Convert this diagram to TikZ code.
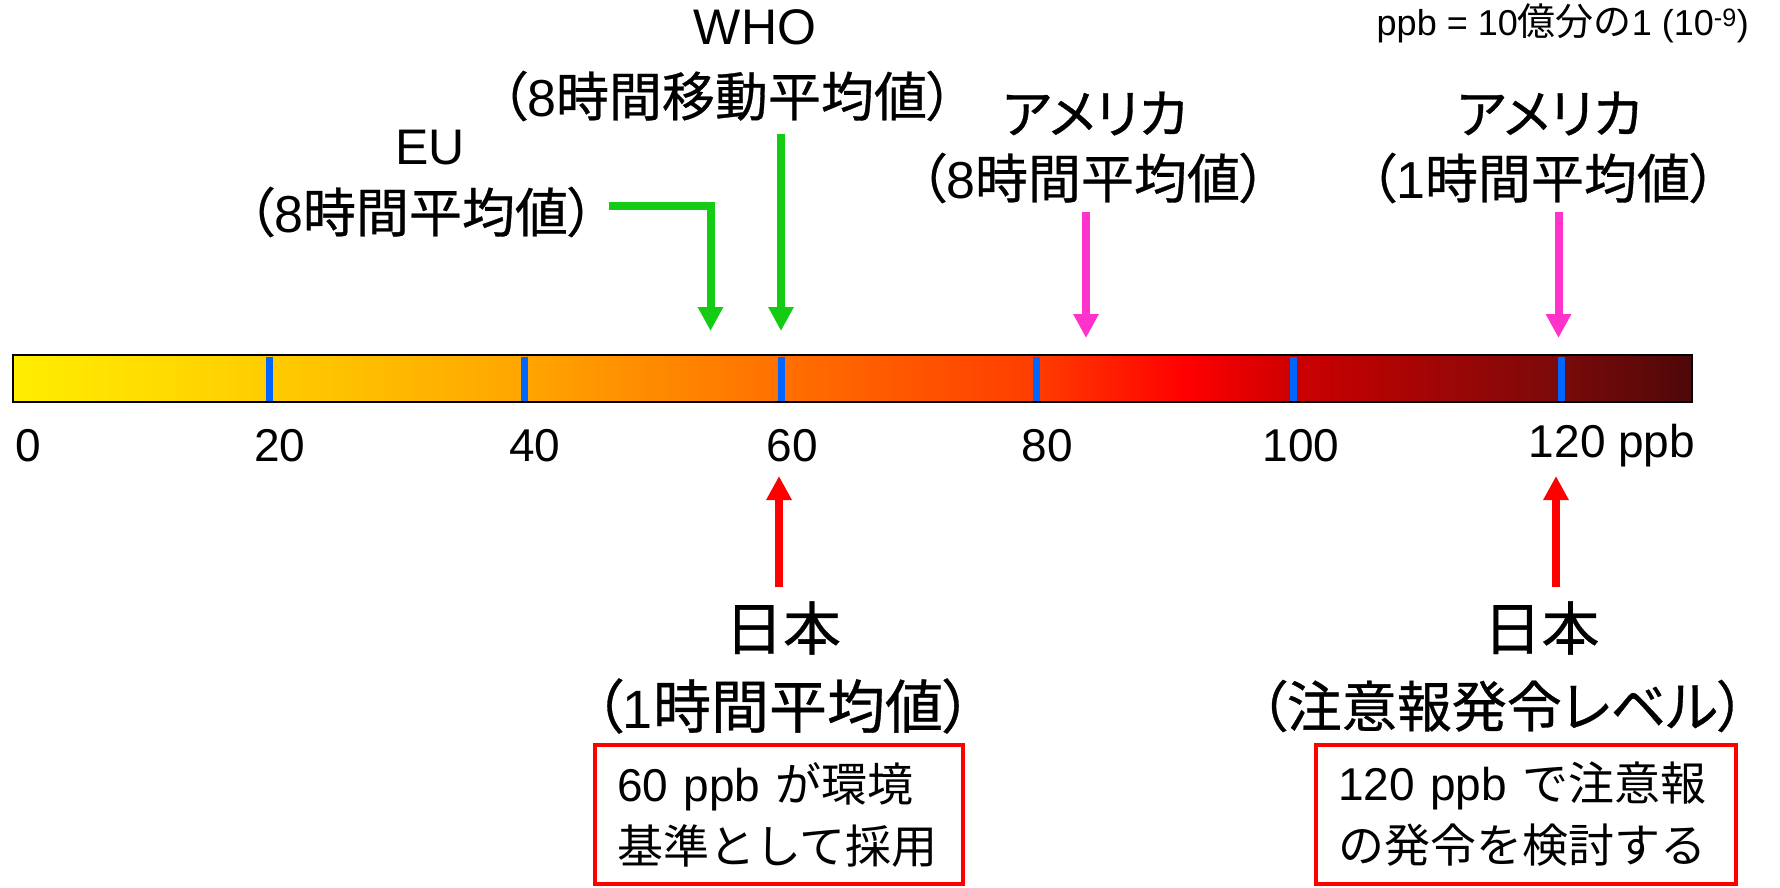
\documentclass[tikz,border=0pt]{standalone}
\usepackage{fontspec}
\setmainfont{Liberation Sans}
\newfontfamily\jpfont{Noto Sans CJK JP}
\newfontfamily\jppfont[RawFeature=+palt, FakeBold=0.6]{Noto Sans CJK JP}
\usetikzlibrary{arrows.meta}
\definecolor{tickblue}{RGB}{0,102,255}
\definecolor{grn}{RGB}{20,204,20}
\definecolor{pnk}{RGB}{255,51,204}
\definecolor{c0}{RGB}{255,238,0}
\definecolor{c1}{RGB}{255,204,0}
\definecolor{c2}{RGB}{255,165,0}
\definecolor{c3}{RGB}{255,112,0}
\definecolor{c4}{RGB}{255,60,0}
\definecolor{c5}{RGB}{255,0,0}
\definecolor{c6}{RGB}{205,0,0}
\definecolor{c7}{RGB}{122,10,10}
\definecolor{c8}{RGB}{78,8,8}
\newcommand{\jt}[1]{{\jppfont\fontsize{53}{53}\selectfont #1}}
\newcommand{\jb}[1]{{\jppfont\fontsize{58}{58}\selectfont #1}}
\newcommand{\jx}[1]{{\jpfont\fontsize{46}{46}\selectfont #1}}
\newcommand{\jn}[1]{{\jpfont\fontsize{38}{38}\selectfont #1}}
\newcommand{\dt}[1]{{\fontsize{52}{52}\selectfont #1}}
\newcommand{\db}[1]{{\fontsize{54}{54}\selectfont #1}}
\tikzset{
  toplbl/.style={inner sep=0pt, font=\fontsize{50}{50}\selectfont},
  botlbl/.style={inner sep=0pt, font=\fontsize{51}{51}\selectfont},
  axlbl/.style={inner sep=0pt, font=\fontsize{46}{46}\selectfont},
  tickln/.style={draw=tickblue, line width=7pt},
  garrow/.style={draw=grn, line width=8pt, -{Triangle[width=24pt,length=24pt]}},
  parrow/.style={draw=pnk, line width=8pt, -{Triangle[width=24pt,length=24pt]}},
  rarrow/.style={draw=red, line width=8pt, -{Triangle[width=24pt,length=24pt]}},
  notebox/.style={draw=red, line width=4pt, inner xsep=22pt, inner ysep=0pt,
    align=left, font=\fontsize{46}{62}\selectfont, minimum height=139pt}
}
\begin{document}
\begin{tikzpicture}[x=1pt,y=-1pt]
\useasboundingbox (0,0) rectangle (1780,887);
% colour bar
\shade[left color=c0, right color=c1] (13,355) rectangle (269.5,402);
\shade[left color=c1, right color=c2] (269,355) rectangle (525.5,402);
\shade[left color=c2, right color=c3] (525,355) rectangle (781.5,402);
\shade[left color=c3, right color=c4] (781,355) rectangle (1037.5,402);
\shade[left color=c4, right color=c5] (1037,355) rectangle (1185.5,402);
\shade[left color=c5, right color=c6] (1185,355) rectangle (1293.5,402);
\shade[left color=c6, right color=c7] (1293,355) rectangle (1561.5,402);
\shade[left color=c7, right color=c8] (1561,355) rectangle (1692,402);
\node[draw=black, line width=2.5pt, minimum width=1679pt, minimum height=47pt, inner sep=0pt] (bar) at (852.5,378.5) {};
\foreach \x/\n in {269/t20, 524.5/t40, 781/t60, 1036.5/t80, 1293/t100, 1561/t120}
  \draw[tickln] (\x,356.5) coordinate (\n top) -- (\x,400.5) coordinate (\n bot);
% axis labels
\node[axlbl] (l0) at (28,446) {0};
\node[axlbl] (l20) at (280,446) {20};
\node[axlbl] (l40) at (535,446) {40};
\node[axlbl] (l60) at (792,446) {60};
\node[axlbl] (l80) at (1047,446) {80};
\node[axlbl] (l100) at (1301,446) {100};
\node[axlbl] (l120) at (1612,446) {120 ppb};
% note
\node[inner sep=0pt, anchor=east, font=\fontsize{36}{36}\selectfont] (note) at (1749,23) {ppb = 10\jn{億分の}1 (10\textsuperscript{-9})};
% top labels
\node[toplbl] (who1) at (755,27) {WHO};
\node[toplbl] (who2) at (727,96) {\jt{（}\dt{8}\jt{時間移動平均値）}};
\node[toplbl] (eu1) at (430,148) {EU};
\node[toplbl] (eu2) at (421,212) {\jt{（}\dt{8}\jt{時間平均値）}};
\node[toplbl] (usa1) at (1095,113.5) {\jt{アメリカ}};
\node[toplbl] (usa2) at (1093,178) {\jt{（}\dt{8}\jt{時間平均値）}};
\node[toplbl] (usb1) at (1549.5,113.5) {\jt{アメリカ}};
\node[toplbl] (usb2) at (1543,178) {\jt{（}\dt{1}\jt{時間平均値）}};
% bottom labels
\node[botlbl] (jpa1) at (783,628) {\jb{日本}};
\node[botlbl] (jpa2) at (783,706) {\jb{（}\db{1}\jb{時間平均値）}};
\node[botlbl] (jpb1) at (1541.5,628) {\jb{日本}};
\node[botlbl] (jpb2) at (1494,706) {{\jppfont\fontsize{55}{55}\selectfont （注意報発令レベル）\kern-0.3em}};
% boxes
\node[notebox, text width=324pt] (boxa) at (779,814.5) {60 ppb \jx{が環境}\\\jx{基準として採用}};
\node[notebox, text width=376pt] (boxb) at (1526,814.5) {120 ppb \jx{で注意報}\\\jx{の発令を検討する}};
% arrows
\coordinate (euS) at (609,205.5);
\coordinate (euC) at (710.5,205.5);
\coordinate (euT) at (710.5,331);
\draw[garrow] (euS) -- (euC) -- (euT);
\coordinate (whoS) at (781,134);
\coordinate (whoT) at (781,331);
\draw[garrow] (whoS) -- (whoT);
\coordinate (usaS) at (1086,212);
\coordinate (usaT) at (1086,338);
\draw[parrow] (usaS) -- (usaT);
\coordinate (usbS) at (1558.5,212);
\coordinate (usbT) at (1558.5,338);
\draw[parrow] (usbS) -- (usbT);
\coordinate (jpaS) at (779,587);
\coordinate (jpaT) at (779,476);
\draw[rarrow] (jpaS) -- (jpaT);
\coordinate (jpbS) at (1556,587);
\coordinate (jpbT) at (1556,476);
\draw[rarrow] (jpbS) -- (jpbT);
\end{tikzpicture}
\end{document}
